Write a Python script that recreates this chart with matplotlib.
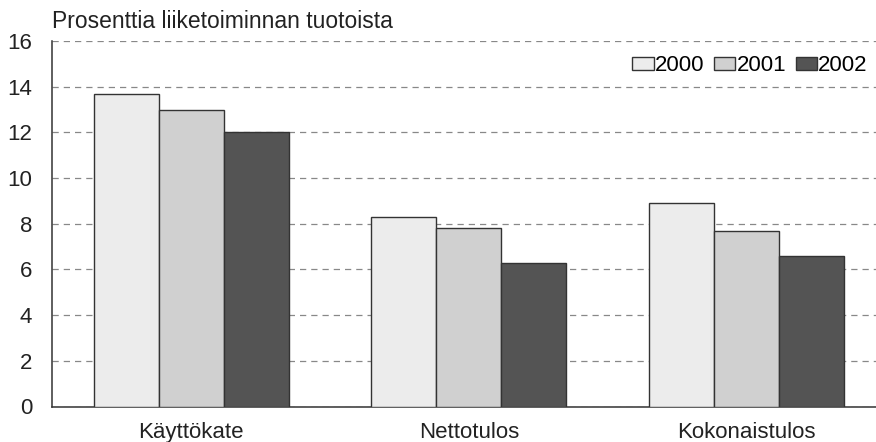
import numpy as np
import matplotlib.pyplot as plt

plt.rcParams['font.family'] = ['Liberation Sans', 'DejaVu Sans']

categories = ['Käyttökate', 'Nettotulos', 'Kokonaistulos']
years = ['2000', '2001', '2002']
v2000 = [13.7, 8.3, 8.9]
v2001 = [13.0, 7.8, 7.7]
v2002 = [12.0, 6.3, 6.6]

colors = ['#ececec', '#d0d0d0', '#545454']

fig = plt.figure(figsize=(8.76, 4.42), dpi=100)
ax = fig.add_axes([51.5 / 876, 1 - 406.5 / 442, 1 - 51.5 / 876, 365.5 / 442])

x = np.arange(len(categories))
w = 0.234
for i, (vals, yr) in enumerate(zip([v2000, v2001, v2002], years)):
    ax.bar(x + (i - 1) * w, vals, width=w, color=colors[i],
           edgecolor='#333333', linewidth=1.0, label=yr, zorder=3)

ax.set_ylim(0, 16)
ax.set_xlim(-0.504, 2.467)
ax.set_yticks(range(0, 17, 2))
ax.yaxis.grid(True, color='#888888', linestyle=(0, (5, 4)), linewidth=0.9)
ax.set_axisbelow(True)

ax.set_xticks(x)
ax.set_xticklabels(categories, fontsize=16)
ax.tick_params(axis='x', length=0, pad=11, colors='#222222')
ax.tick_params(axis='y', length=0, pad=14, labelsize=16, colors='#222222')

for side in ['top', 'right']:
    ax.spines[side].set_visible(False)
for side in ['left', 'bottom']:
    ax.spines[side].set_color('#333333')
    ax.spines[side].set_linewidth(1.1)

fig.text(52 / 876, 1 - 22 / 442, 'Prosenttia liiketoiminnan tuotoista',
         fontsize=16.5, va='center', ha='left', color='#222222')

ax.legend(ncol=3, loc='center right', bbox_to_anchor=(0.99, 0.932),
          frameon=False, fontsize=16, handlelength=0.95, handleheight=0.55,
          handletextpad=0.05, columnspacing=0.45, borderaxespad=0,
          borderpad=0)

fig.savefig('out.png', dpi=100)
